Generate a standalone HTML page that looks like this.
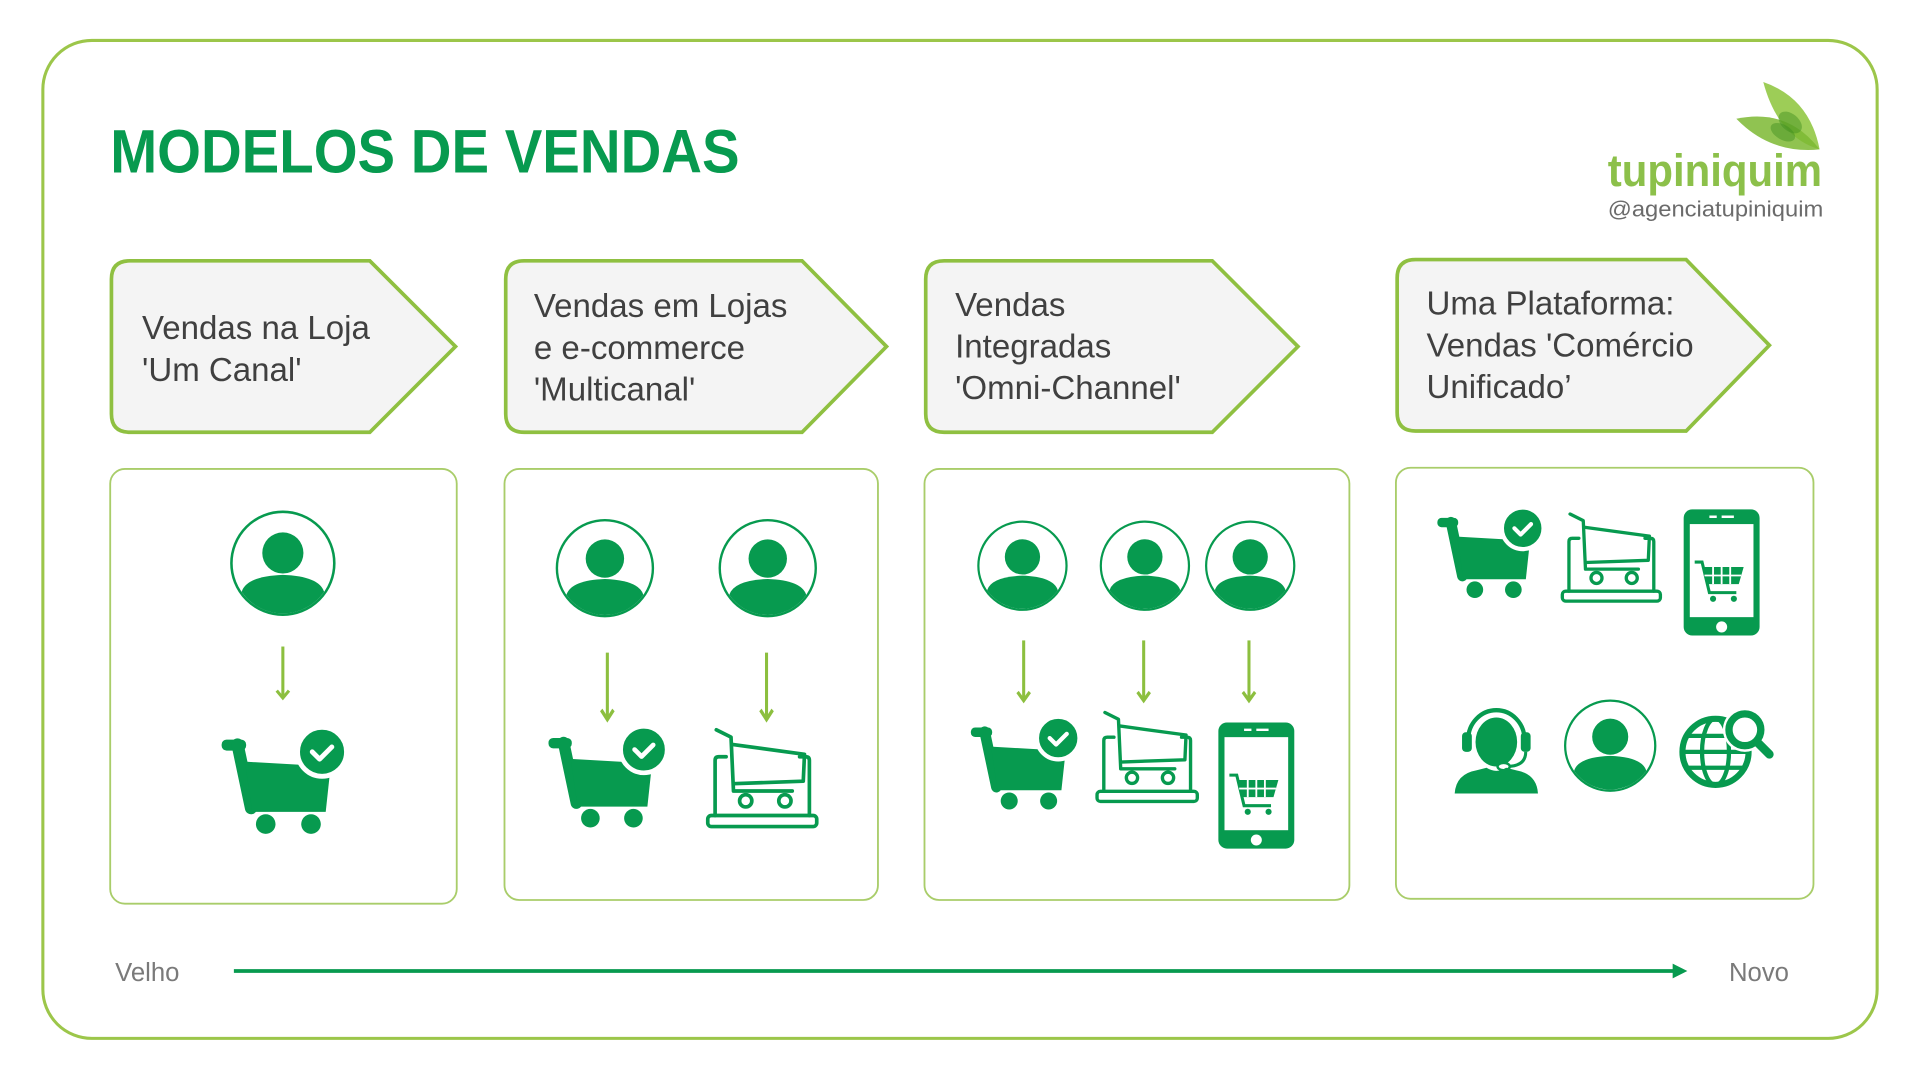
<!DOCTYPE html>
<html><head><meta charset="utf-8"><style>
html,body{margin:0;padding:0;background:#fff;}
svg{display:block;}
</style></head><body>
<svg width="1920" height="1080" viewBox="0 0 1568 882" xmlns="http://www.w3.org/2000/svg" font-family="'Liberation Sans', sans-serif">
<defs>
<clipPath id="pc"><circle cx="0" cy="0" r="39"/></clipPath>
<g id="person">
  <circle cx="0" cy="0" r="40" fill="#fff" stroke="#079a4f" stroke-width="2"/>
  <circle cx="0" cy="-8" r="16" fill="#079a4f"/>
  <path d="M-34,40 L-32,22 Q-28,10 0,9 Q28,10 32,22 L34,40 Z" fill="#079a4f" clip-path="url(#pc)"/>
</g>
<g id="cartc">
  <rect x="1" y="7" width="20" height="9" rx="4" fill="#079a4f"/>
  <path d="M14,11 L25,63" stroke="#079a4f" stroke-width="10" stroke-linecap="round"/>
  <polygon points="20,25 90,29 86,66 26,66" fill="#079a4f"/>
  <circle cx="37" cy="76" r="8" fill="#079a4f"/>
  <circle cx="74" cy="76" r="8" fill="#079a4f"/>
  <circle cx="83" cy="17" r="20" fill="#079a4f" stroke="#fff" stroke-width="4"/>
  <path d="M75,17 l6,6 l10,-10" fill="none" stroke="#fff" stroke-width="4" stroke-linecap="round" stroke-linejoin="round"/>
</g>
<g id="laptop" fill="none" stroke="#079a4f" stroke-width="3" stroke-linejoin="round" stroke-linecap="round">
  <path d="M8,2 L20,8 L22,52 L70,52"/>
  <path d="M21,14 L80,22 L79,44 L22,46"/>
  <circle cx="32" cy="60" r="5"/><circle cx="64" cy="60" r="5"/>
  <path d="M16,24 H10 Q7,24 7,27 V72 M76,24 H81 Q84,24 84,27 V72"/>
  <rect x="1" y="72" width="89" height="9" rx="3"/>
</g>
<g id="phone">
  <rect x="0" y="0" width="62" height="103" rx="7" fill="#079a4f"/>
  <rect x="5" y="12" width="52" height="76" fill="#fff"/>
  <path d="M21,6 h6 M31,6 h10" stroke="#fff" stroke-width="2"/>
  <circle cx="31" cy="96" r="4.5" fill="#fff"/>
  <path d="M9,43 h6 l6,25 h22" fill="none" stroke="#079a4f" stroke-width="2.5"/>
  <polygon points="15,47 49,47 45,61 19,61" fill="#079a4f"/>
  <path d="M24,47 v14 M31,47 v14 M38,47 v14 M17,54 h30" stroke="#fff" stroke-width="1.5"/>
  <circle cx="24" cy="73" r="2.5" fill="#079a4f"/><circle cx="41" cy="73" r="2.5" fill="#079a4f"/>
</g>
<g id="arrow" fill="none" stroke="#8cbf3f" stroke-width="2.5">
  <line x1="0" y1="0" x2="0" y2="42"/>
  <path d="M-5,36 L0,42 L5,36"/>
</g>
</defs>

<rect x="0" y="0" width="1568" height="882" fill="#fff"/>
<rect x="35" y="33" width="1498" height="815" rx="40" fill="none" stroke="#9cc64a" stroke-width="2.5"/>

<text x="90" y="141" font-size="50" font-weight="bold" fill="#079a4f" textLength="514" lengthAdjust="spacingAndGlyphs">MODELOS DE VENDAS</text>

<!-- logo -->
<g>
  <path d="M1440,67 Q1478,80 1486,122 Q1452,112 1440,67 Z" fill="#8cc43a" opacity="0.85"/>
  <path d="M1418,97 Q1460,88 1486,122 Q1446,126 1418,97 Z" fill="#7db832" opacity="0.85"/>
  <ellipse cx="1462" cy="100" rx="11" ry="7" transform="rotate(40 1462 100)" fill="#3f8f1f" opacity="0.45"/>
  <ellipse cx="1456" cy="108" rx="11" ry="6" transform="rotate(30 1456 108)" fill="#3f8f1f" opacity="0.45"/>
</g>
<text x="1313" y="152" font-size="37" font-weight="bold" fill="#8cc04a" textLength="175" lengthAdjust="spacingAndGlyphs">tupiniquim</text>
<text x="1313" y="177" font-size="18" fill="#6b6b6b" textLength="176" lengthAdjust="spacingAndGlyphs">@agenciatupiniquim</text>

<!-- pentagons -->
<g fill="#f4f4f4" stroke="#8fc041" stroke-width="3" stroke-linejoin="miter">
  <path d="M106,213 H302 L372,283 L302,353 H106 Q91,353 91,338 V228 Q91,213 106,213 Z"/>
  <path d="M428,213 H655 L724,283 L655,353 H428 Q413,353 413,338 V228 Q413,213 428,213 Z"/>
  <path d="M771,213 H990 L1060,283 L990,353 H771 Q756,353 756,338 V228 Q756,213 771,213 Z"/>
  <path d="M1156,212 H1377 L1445,282 L1377,352 H1156 Q1141,352 1141,337 V227 Q1141,212 1156,212 Z"/>
</g>
<g font-size="27" fill="#404040">
  <text x="116" y="277">Vendas na Loja</text>
  <text x="116" y="311">'Um Canal'</text>
  <text x="436" y="259">Vendas em Lojas</text>
  <text x="436" y="293">e e-commerce</text>
  <text x="436" y="327">'Multicanal'</text>
  <text x="780" y="258">Vendas</text>
  <text x="780" y="292">Integradas</text>
  <text x="780" y="326">'Omni-Channel'</text>
  <text x="1165" y="257">Uma Plataforma:</text>
  <text x="1165" y="291">Vendas 'Comércio</text>
  <text x="1165" y="325">Unificado’</text>
</g>

<!-- content boxes -->
<g fill="#fff" stroke="#a9cd6a" stroke-width="1.5">
  <rect x="90" y="383" width="283" height="355" rx="12"/>
  <rect x="412" y="383" width="305" height="352" rx="12"/>
  <rect x="755" y="383" width="347" height="352" rx="12"/>
  <rect x="1140" y="382" width="341" height="352" rx="12"/>
</g>

<!-- box1 -->
<use href="#person" transform="translate(231,460) scale(1.05)"/>
<use href="#arrow" transform="translate(231,528)"/>
<use href="#cartc" transform="translate(180,597)"/>

<!-- box2 -->
<use href="#person" transform="translate(494,464) scale(0.98)"/>
<use href="#person" transform="translate(627,464) scale(0.98)"/>
<use href="#arrow" transform="translate(496,533) scale(1,1.3)"/>
<use href="#arrow" transform="translate(626,533) scale(1,1.3)"/>
<use href="#cartc" transform="translate(447,596) scale(0.95)"/>
<use href="#laptop" transform="translate(577,594)"/>

<!-- box3 -->
<use href="#person" transform="translate(835,462) scale(0.9)"/>
<use href="#person" transform="translate(935,462) scale(0.9)"/>
<use href="#person" transform="translate(1021,462) scale(0.9)"/>
<use href="#arrow" transform="translate(836,523) scale(1,1.17)"/>
<use href="#arrow" transform="translate(934,523) scale(1,1.17)"/>
<use href="#arrow" transform="translate(1020,523) scale(1,1.17)"/>
<use href="#cartc" transform="translate(792,588) scale(0.87)"/>
<use href="#laptop" transform="translate(895,580) scale(0.92)"/>
<use href="#phone" transform="translate(995,590)"/>

<!-- box4 -->
<use href="#cartc" transform="translate(1173,417) scale(0.85)"/>
<use href="#laptop" transform="translate(1275,418) scale(0.9)"/>
<use href="#phone" transform="translate(1375,416)"/>
<!-- headset -->
<g transform="translate(1188,574)">
  <ellipse cx="34" cy="32" rx="17" ry="20" fill="#079a4f"/>
  <path d="M11,30 A23,24 0 0 1 57,30" fill="none" stroke="#fff" stroke-width="7"/>
  <path d="M11,30 A23,24 0 0 1 57,30" fill="none" stroke="#079a4f" stroke-width="3.5"/>
  <rect x="6" y="24" width="8" height="16" rx="3" fill="#079a4f"/>
  <rect x="54" y="24" width="8" height="16" rx="3" fill="#079a4f"/>
  <path d="M58,40 Q58,52 42,52" fill="none" stroke="#079a4f" stroke-width="2.5"/>
  <ellipse cx="40" cy="52" rx="5" ry="3" fill="#fff" stroke="#079a4f" stroke-width="2"/>
  <path d="M0,74 Q1,58 18,55 L26,53 Q34,58 42,53 L50,55 Q67,58 68,74 Z" fill="#079a4f"/>
</g>
<use href="#person" transform="translate(1315,609) scale(0.92)"/>
<!-- globe -->
<g transform="translate(1369,574)">
  <circle cx="32" cy="40" r="27" fill="none" stroke="#079a4f" stroke-width="5"/>
  <ellipse cx="32" cy="40" rx="11" ry="27" fill="none" stroke="#079a4f" stroke-width="3.5"/>
  <path d="M5,40 H59 M9,27 H55 M9,53 H55" stroke="#079a4f" stroke-width="3.5"/>
  <circle cx="56" cy="22" r="18" fill="#fff"/>
  <circle cx="56" cy="22" r="13" fill="#fff" stroke="#079a4f" stroke-width="6"/>
  <path d="M66,32 L76,42" stroke="#079a4f" stroke-width="7" stroke-linecap="round"/>
</g>

<!-- timeline -->
<text x="94" y="801" font-size="21" fill="#7a7a7a">Velho</text>
<line x1="191" y1="793" x2="1368" y2="793" stroke="#079a4f" stroke-width="3"/>
<polygon points="1366,787 1378,793 1366,799" fill="#079a4f"/>
<text x="1412" y="801" font-size="21" fill="#7a7a7a">Novo</text>
</svg>
</body></html>
